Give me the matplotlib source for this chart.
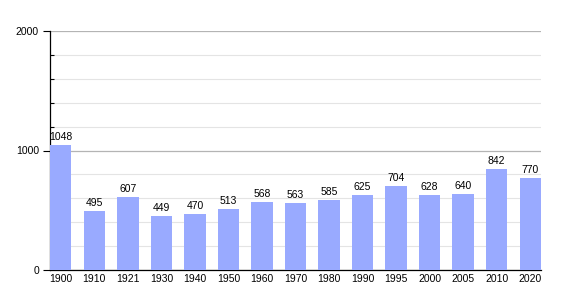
import matplotlib.pyplot as plt
from matplotlib.ticker import MultipleLocator

years = ['1900', '1910', '1921', '1930', '1940', '1950', '1960', '1970',
         '1980', '1990', '1995', '2000', '2005', '2010', '2020']
population = [1048, 495, 607, 449, 470, 513, 568, 563, 585, 625, 704, 628, 640, 842, 770]

plt.rcParams['font.family'] = ['Liberation Sans', 'DejaVu Sans']

fig = plt.figure(figsize=(5.7, 3.0), dpi=100)
ax = fig.add_axes([50 / 570, 30 / 300, 491 / 570, 239 / 300])

x = range(len(years))
w = 0.64
bars = ax.bar(x, population, width=w, color='#99aaff', zorder=3)

for xi, v in zip(x, population):
    ax.text(xi, v + 25, str(v), ha='center', va='bottom', fontsize=7.5, color='black', zorder=4)

ax.set_xlim(-w / 2, len(years) - 1 + w / 2)
ax.set_ylim(0, 2000)
ax.set_xticks(list(x))
ax.set_xticklabels(years)
ax.yaxis.set_major_locator(MultipleLocator(1000))
ax.yaxis.set_minor_locator(MultipleLocator(200))

ax.grid(which='major', axis='y', color='#b4b4b4', linewidth=0.9, zorder=0)
ax.grid(which='minor', axis='y', color='#e4e4e4', linewidth=0.8, zorder=0)

ax.tick_params(axis='x', length=0, labelsize=7.5, pad=3)
ax.tick_params(axis='y', which='major', length=5, width=0.8, labelsize=7.5, pad=3, direction='out')
ax.tick_params(axis='y', which='minor', length=3, width=0.8, direction='in')

for s in ['top', 'right']:
    ax.spines[s].set_visible(False)
ax.spines['left'].set_linewidth(0.9)
ax.spines['bottom'].set_linewidth(0.9)

fig.savefig('out.png', dpi=100)
